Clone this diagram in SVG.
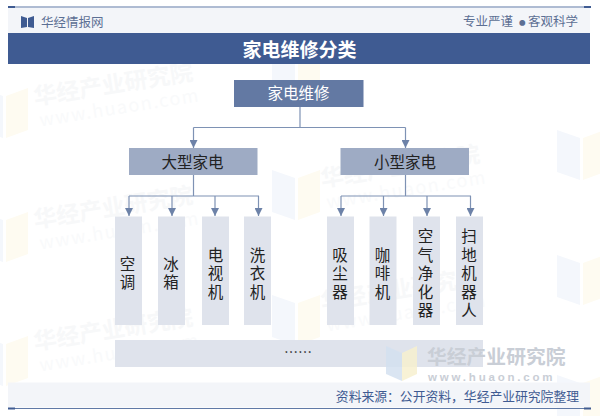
<svg xmlns="http://www.w3.org/2000/svg" width="600" height="416" viewBox="0 0 600 416">
<defs>
<marker id="arr" markerUnits="userSpaceOnUse" markerWidth="8" markerHeight="8" refX="7" refY="3.5" orient="auto" viewBox="0 0 7 7"><path d="M0 0L7 3.500L0 7Z" fill="#6d82a8"/></marker>
<g id="wm">
<text class="wt" x="0" y="0">华经产业研究院</text>
<text class="wu" x="2" y="22">www.huaon.com</text>
</g>
<g id="logo"><path d="M0 0L23 8V50L0 42Z" fill="#f4f7fc"/><path d="M26 8L48 0V42L26 50Z" fill="#fefbf1"/></g>
</defs>
<style>
text{font-family:"Noto Sans CJK SC","Liberation Sans",sans-serif}
.wt{font-size:23px;font-weight:700;fill:#f7f8f9}
.wu{font-size:18px;fill:#f9fafb;letter-spacing:1.5px}
.c{fill:none;stroke:#7e92b4;stroke-width:1.2}
.leaf{fill:#dfe3ec}
.mid{fill:#9eabc4}
.lt{font-size:15.500px;fill:#222;text-anchor:middle}
.vt{font-size:15.500px;fill:#222;text-anchor:middle;writing-mode:vertical-rl;letter-spacing:3px}
.band{fill:#f3f5f9}
</style>
<rect width="600" height="416" fill="#fff"/>
<g id="watermarks">
<use href="#logo" transform="translate(-20,88)"/>
<use href="#logo" transform="translate(-20,212)"/>
<use href="#logo" transform="translate(-20,336)"/>
<use href="#logo" transform="translate(272,50)"/>
<use href="#logo" transform="translate(272,170)"/>
<use href="#logo" transform="translate(272,295)"/>
<use href="#logo" transform="translate(557,130)"/>
<use href="#logo" transform="translate(557,255)"/>
<use href="#logo" transform="translate(557,375)"/>
<use href="#wm" transform="translate(35,105) rotate(-9)"/>
<use href="#wm" transform="translate(35,228) rotate(-9)"/>
<use href="#wm" transform="translate(35,350) rotate(-9)"/>
<use href="#wm" transform="translate(322,187) rotate(-9)"/>
<use href="#wm" transform="translate(322,310) rotate(-9)"/>
</g>
<g id="header">
<rect class="band" x="8" y="8" width="582" height="25"/>
<path d="M8 7H590" stroke="#5f79a6" stroke-width="1"/>
<rect x="8" y="6" width="7" height="2" fill="#3f5b92"/><rect x="584" y="6" width="7" height="2" fill="#3f5b92"/>
<path d="M21 16L27 18V27L21 28ZM34 16L28 18V27L34 28Z" fill="#3f5b92"/>
<text x="41" y="26.500" font-size="12.500" fill="#5c6f94">华经情报网</text>
<text y="26" font-size="12.500" fill="#5c6f94"><tspan x="463">专业严谨</tspan><tspan x="519" font-size="6.500" dy="-1.500">●</tspan><tspan x="528" dy="1.500">客观科学</tspan></text>
<rect x="8" y="33" width="582" height="31" fill="#3f5b92"/>
<text x="299.500" y="57" font-size="19" font-weight="700" fill="#fff" text-anchor="middle">家电维修分类</text>
</g>
<g id="connectors">
<path class="c" d="M300 106V127.500"/>
<path class="c" d="M193.500 127.500H405.500"/>
<path class="c" d="M193.500 127.500V148" marker-end="url(#arr)"/>
<path class="c" d="M405.500 127.500V148" marker-end="url(#arr)"/>
<path class="c" d="M193.500 175V196"/>
<path class="c" d="M129 196H259"/>
<path class="c" d="M129 196V216" marker-end="url(#arr)"/>
<path class="c" d="M172 196V216" marker-end="url(#arr)"/>
<path class="c" d="M215 196V216" marker-end="url(#arr)"/>
<path class="c" d="M258.500 196V216" marker-end="url(#arr)"/>
<path class="c" d="M405.500 175V196"/>
<path class="c" d="M341 196H471"/>
<path class="c" d="M341 196V216" marker-end="url(#arr)"/>
<path class="c" d="M383.500 196V216" marker-end="url(#arr)"/>
<path class="c" d="M427 196V216" marker-end="url(#arr)"/>
<path class="c" d="M470.500 196V216" marker-end="url(#arr)"/>
</g>
<g id="root"><rect x="234" y="80" width="129.500" height="27" fill="#6379a3"/><text x="298.500" y="99" font-size="15.500" fill="#fff" text-anchor="middle">家电维修</text></g>
<g id="large"><rect class="mid" x="129" y="148" width="128.500" height="27"/><text class="lt" x="192.500" y="168">大型家电</text></g>
<g id="small"><rect class="mid" x="340.500" y="148" width="128.500" height="27"/><text class="lt" x="405" y="168">小型家电</text></g>
<g id="n1"><rect class="leaf" x="115" y="216.500" width="27" height="108.500"/><text class="vt" x="127.500" y="274.500">空调</text></g>
<g id="n2"><rect class="leaf" x="158" y="216.500" width="27" height="108.500"/><text class="vt" x="171" y="274.500">冰箱</text></g>
<g id="n3"><rect class="leaf" x="202" y="216.500" width="27" height="108.500"/><text class="vt" x="215.500" y="275">电视机</text></g>
<g id="n4"><rect class="leaf" x="244" y="216.500" width="27" height="108.500"/><text class="vt" x="257.500" y="275">洗衣机</text></g>
<g id="n5"><rect class="leaf" x="327" y="216.500" width="27" height="108.500"/><text class="vt" x="340" y="275">吸尘器</text></g>
<g id="n6"><rect class="leaf" x="369.500" y="216.500" width="27" height="108.500"/><text class="vt" x="382.500" y="275">咖啡机</text></g>
<g id="n7"><rect class="leaf" x="413" y="216.500" width="27" height="108.500"/><text class="vt" x="425.500" y="275">空气净化器</text></g>
<g id="n8"><rect class="leaf" x="456" y="216.500" width="27" height="108.500"/><text class="vt" x="469" y="275">扫地机器人</text></g>
<g id="more"><rect class="leaf" x="115" y="340" width="368" height="27"/><text x="298" y="357" font-size="14" fill="#222" text-anchor="middle" font-family="Liberation Sans">……</text></g>
<g id="footer">
<rect class="band" x="8" y="382.500" width="582" height="25"/>
<path d="M386 346L402 353V381L386 374Z" fill="#d3e0f0" opacity=".85"/><path d="M402 353L417 346V374L402 381Z" fill="#f7f0cf" opacity=".85"/>
<text fill="#c9ced6" font-weight="700"><tspan x="427" y="364" font-size="19.800">华经产业研究院</tspan><tspan x="428" y="381" font-size="11.500" letter-spacing="2.800" style="font-family:'Liberation Sans',sans-serif">www.huaon.com</tspan></text>
<text x="579" y="400.500" font-size="12.800" fill="#3f5b92" text-anchor="end">资料来源&#xFF1A;公开资料&#xFF0C;华经产业研究院整理</text>
<path d="M8 408.500H590" stroke="#5f79a6" stroke-width="1"/>
<rect x="8" y="407.500" width="7" height="2" fill="#3f5b92"/><rect x="584" y="407.500" width="7" height="2" fill="#3f5b92"/>
</g>
</svg>
